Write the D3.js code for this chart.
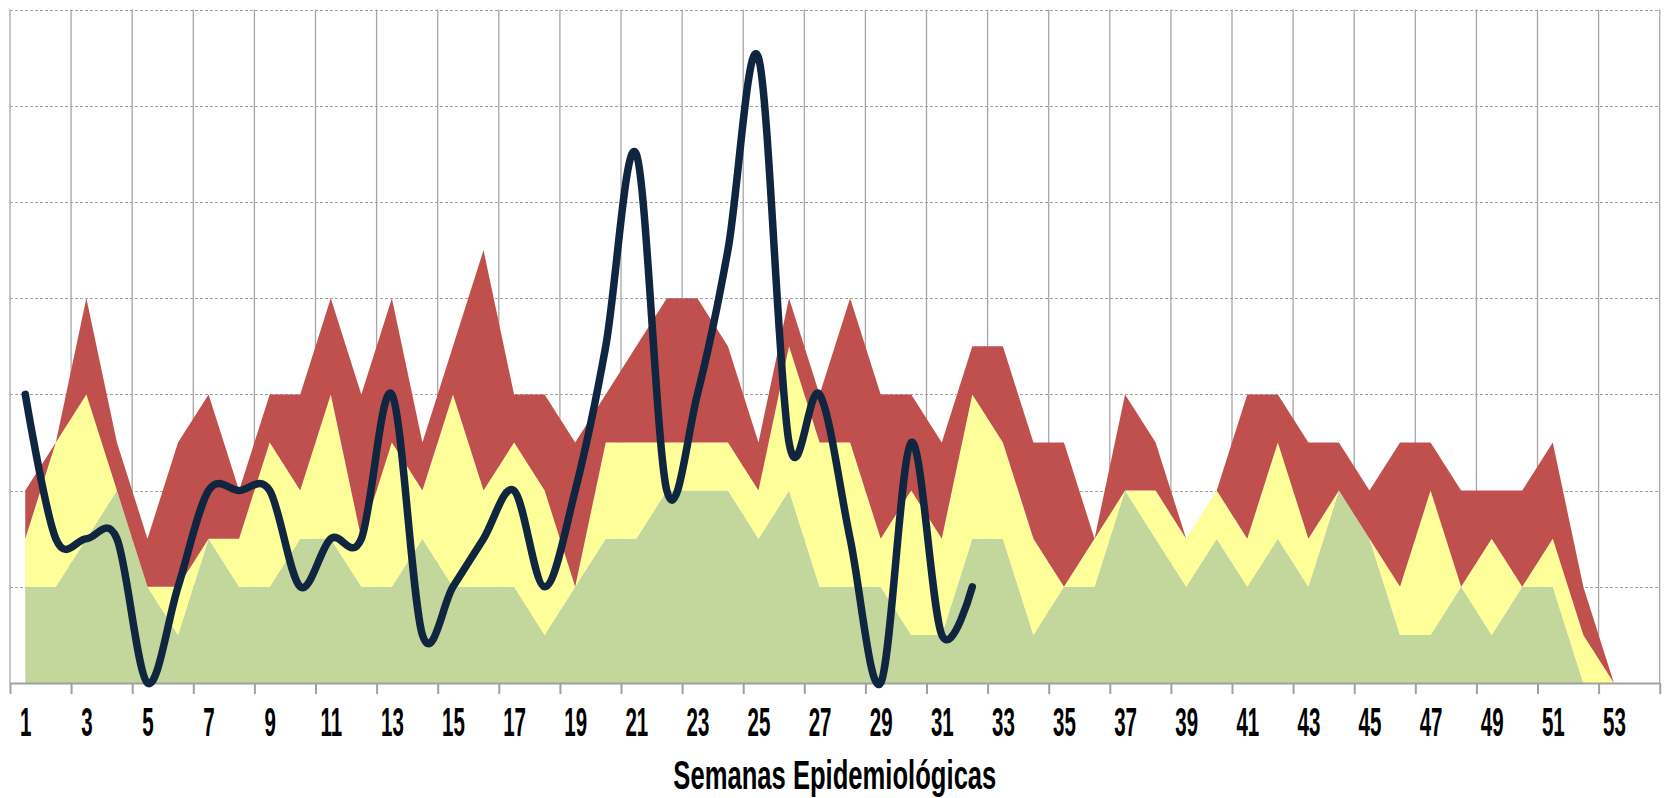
<!DOCTYPE html>
<html>
<head>
<meta charset="utf-8">
<script src="https://cdn.jsdelivr.net/npm/d3@7"></script>
<style>
    html, body { margin: 0; padding: 0; background: #fff; }
    svg { display: block; }
    .grid-h line { stroke: #a0a0a0; stroke-width: 1; stroke-dasharray: 3,2; }
    .grid-v line { stroke: #a6a6a6; stroke-width: 1.3; }
    .x-ticks path, .x-ticks line { stroke: #a0a0a0; stroke-width: 2; }
    .x-labels path { display: none; }
    .x-labels text { font-family: "Liberation Sans", Arial, sans-serif; font-weight: bold; font-size: 41px; fill: #000; }
    .axis-title { font-family: "Liberation Sans", Arial, sans-serif; font-weight: bold; font-size: 41px; fill: #000; }
</style>
</head>
<body>
<div id="chart"></div>
<script>
// semanas epidemiologicas
var semanas = d3.range(1, 54);
var ticksSemanas = d3.range(1, 54, 2);

// canal endemico (tramos apilados)
var exito     = [2,2,3,4,2,1,3,2,2,3,3,2,2,3,2,2,2,1,2,3,3,4,4,4,3,4,2,2,2,1,1,3,3,1,2,2,4,3,2,3,2,3,2,4,3,1,1,2,1,2,2,0,0];
var seguridad = [1,3,3,0,0,1,0,1,3,1,3,1,3,1,4,2,3,3,0,2,2,1,1,1,1,3,3,3,1,3,2,3,2,2,0,1,0,1,1,1,1,2,1,0,0,1,3,0,2,0,1,1,0];
var alerta    = [1,0,2,1,1,3,3,1,1,2,2,3,3,1,1,5,1,2,3,1,2,3,3,2,1,1,1,3,3,2,2,1,2,2,3,0,2,1,0,0,3,1,2,1,1,3,1,2,1,2,2,1,0];

// casos del año (semanas 1 a 32)
var casos = [6,3,3,3,0,2,4,4,4,2,3,3,6,1,2,3,4,2,4,7,11,4,6,9,13,5,6,3,0,5,1,2];

(function() {
    var W = 1667, H = 798;
    var left = 10, right = 1659.7, top = 9.6, bottom = 683;

    var svg = d3.select("#chart")
        .append("svg")
            .attr("width", W)
            .attr("height", H);

    var x = d3.scaleLinear().domain([0.5, 54.5]).range([left, right]);
    var y = d3.scaleLinear().domain([0, 14]).range([bottom, top]);

    // horizontal dashed grid
    svg.append("g")
        .classed("grid-h", true)
        .selectAll("line")
        .data(d3.range(2, 15, 2))
        .enter()
        .append("line")
            .attr("x1", left)
            .attr("x2", right)
            .attr("y1", function(d) { return Math.round(y(d)) + 0.5; })
            .attr("y2", function(d) { return Math.round(y(d)) + 0.5; });

    // vertical grid every two weeks, on band edges
    var bordes = d3.range(0.5, 55, 2);
    svg.append("g")
        .classed("grid-v", true)
        .selectAll("line")
        .data(bordes)
        .enter()
        .append("line")
            .attr("x1", function(d) { return x(d); })
            .attr("x2", function(d) { return x(d); })
            .attr("y1", top)
            .attr("y2", bottom);

    // stacked areas
    var rows = semanas.map(function(s, i) {
        return {semana: s, exito: exito[i], seguridad: seguridad[i], alerta: alerta[i]};
    });
    var series = d3.stack().keys(["exito", "seguridad", "alerta"])(rows);
    var colors = {exito: "#c3d69b", seguridad: "#ffff99", alerta: "#c0504d"};

    var area = d3.area()
        .x(function(d) { return x(d.data.semana); })
        .y0(function(d) { return y(d[0]); })
        .y1(function(d) { return y(d[1]); });

    svg.append("g")
        .selectAll("path")
        .data(series)
        .enter()
        .append("path")
            .attr("d", area)
            .style("fill", function(d) { return colors[d.key]; })
            .style("stroke", "none");

    // x axis: tick marks on band edges
    svg.append("g")
        .classed("x-ticks", true)
        .attr("transform", "translate(0," + bottom + ")")
        .call(d3.axisBottom(x).tickValues(bordes).tickSize(11).tickSizeOuter(0).tickFormat(""));

    // x axis labels at odd weeks
    var labels = svg.append("g")
        .classed("x-labels", true)
        .attr("transform", "translate(0," + bottom + ")")
        .call(d3.axisBottom(x).tickValues(ticksSemanas).tickSize(0).tickPadding(24).tickFormat(d3.format("d")));
    labels.selectAll("line").remove();
    labels.selectAll("text")
        .attr("transform", "scale(0.5,1)")
        .attr("x", 0);

    // smoothed cases line
    var line = d3.line()
        .x(function(d, i) { return x(semanas[i]); })
        .y(function(d) { return y(d); })
        .curve(d3.curveCatmullRom.alpha(0));

    svg.append("path")
        .datum(casos)
        .attr("d", line)
        .style("fill", "none")
        .style("stroke", "#10253f")
        .style("stroke-width", 7.5)
        .style("stroke-linecap", "round")
        .style("stroke-linejoin", "round");

    svg.append("text")
        .classed("axis-title", true)
        .attr("x", (left + right) / 2)
        .attr("y", 789)
        .attr("text-anchor", "middle")
        .attr("textLength", 323)
        .attr("lengthAdjust", "spacingAndGlyphs")
        .text("Semanas Epidemiológicas");
})()
</script>
</body>
</html>
